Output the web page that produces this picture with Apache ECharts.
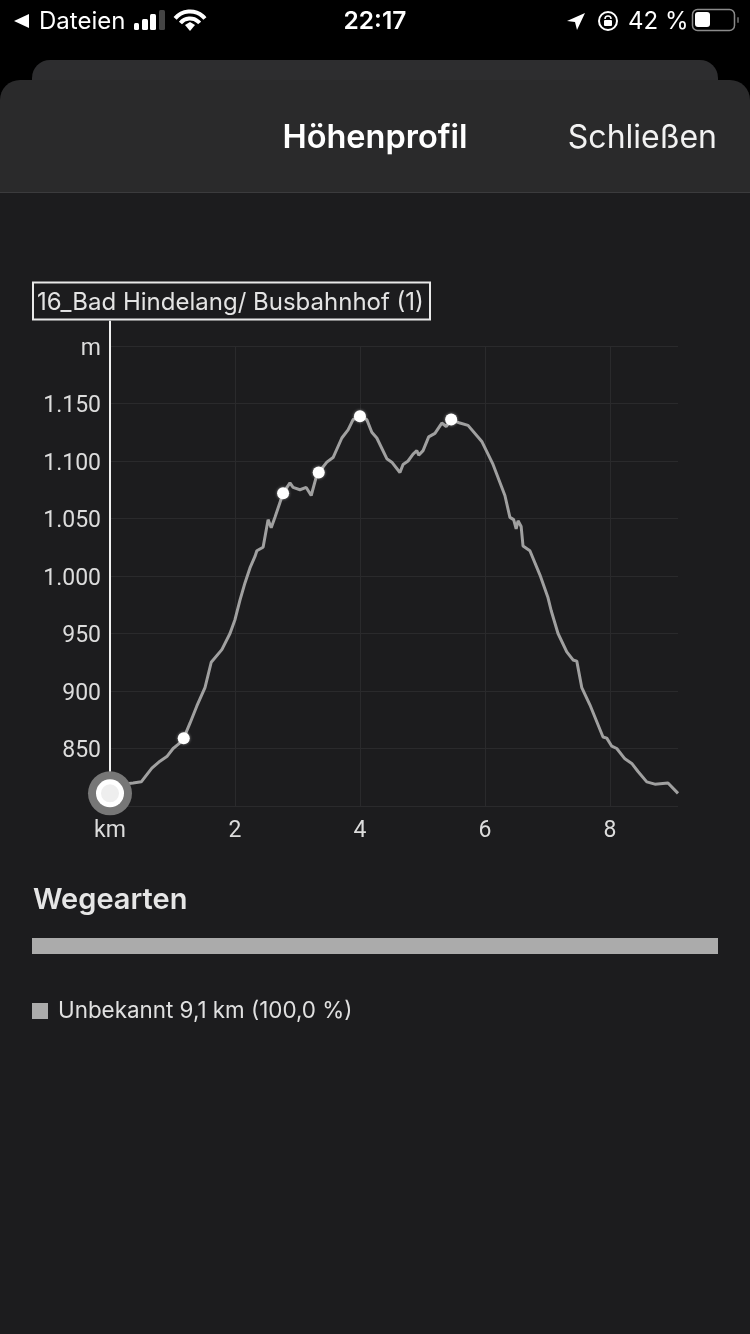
<!DOCTYPE html>
<html><head><meta charset="utf-8">
<style>html,body{margin:0;padding:0;background:#000}#c{width:750px;height:1334px}</style>
<script src="https://cdn.jsdelivr.net/npm/echarts@6/dist/echarts.min.js"></script>
</head><body><div id="c"></div>
<script>
// distance along the route (km)
var distanceKm = [0,0.13,0.21,0.37,0.5,0.67,0.8,0.91,1.01,1.1,1.18,1.28,1.39,1.52,1.62,1.65,1.79,1.92,2.0,2.08,2.16,2.24,2.32,2.35,2.45,2.53,2.58,2.64,2.77,2.88,2.93,3.04,3.14,3.22,3.25,3.3,3.34,3.47,3.57,3.71,3.81,3.89,4.0,4.11,4.19,4.27,4.43,4.51,4.64,4.69,4.77,4.85,4.91,4.94,5.01,5.1,5.2,5.31,5.38,5.46,5.6,5.73,5.95,6.13,6.32,6.4,6.46,6.5,6.53,6.58,6.61,6.72,6.88,7.01,7.06,7.17,7.31,7.41,7.47,7.55,7.68,7.89,7.95,8.03,8.11,8.24,8.35,8.45,8.59,8.72,8.93,9.09];
// elevation (m)
var elevationM = [811,818,819,820,821,833,839,843,850,854,859,872,887,903,925,926,936,950,962,979,994,1007,1017,1022,1025,1049,1042,1051,1072,1081,1077,1075,1077,1070,1071,1086,1090,1099,1103,1120,1127,1136,1139,1136,1125,1120,1102,1099,1090,1097,1100,1106,1109,1105,1109,1121,1124,1133,1130,1136,1133,1131,1117,1097,1070,1051,1049,1041,1048,1043,1026,1022,1001,981,970,950,934,927,926,903,888,860,859,852,850,841,837,830,821,819,820,811];
// highlighted waypoints
var waypointKm = [1.18,2.77,3.34,4.0,5.46];
var waypointM = [859,1072,1090,1139,1136];
// current position
var cursorKm = 0, cursorM = 811, cursorTopM = 1222;
// axis ticks
var kmTicks = [0,2,4,6,8];
var kmMax = 9.09, mMin = 800, mMax = 1200, mStep = 50;
// way types
var wayTypes = ['Unbekannt 9,1 km (100,0 %)'];
var wayShares = [100];

var FONT = 'Inter, Roboto, sans-serif';
var FONT2 = 'Roboto, Inter, sans-serif';
var deNum = function (v) { return v >= 1000 ? String(v).replace(/(\d)(\d{3})$/, '$1.$2') : String(v); };

var T = function (x, y, text, size, weight, color, align, font) {
  return { type:'text', x:x, y:y, silent:true, style:{ text:text, fontFamily:font||FONT, fontSize:size, fontWeight:weight, fill:color, textAlign:align||'left', textVerticalAlign:'middle' } };
};
var R = function (x, y, w, h, fill, r, z) {
  return { type:'rect', shape:{x:x,y:y,width:w,height:h,r:r||0}, style:{fill:fill}, silent:true, z:z||0 };
};

var chrome = [
  // sheets
  R(32,60,686,60,'#2d2d2f',[18,18,0,0]),
  R(0,80,750,112,'#2a2a2b',[20,20,0,0]),
  R(0,192,750,1142,'#1c1c1e'),
  R(0,192,750,1,'#3b3b3d'),
  T(375,138,'Höhenprofil',32.5,600,'#ffffff','center'),
  T(717,138,'Schließen',32,400,'#f2f2f2','right'),
  // status bar
  { type:'polygon', shape:{points:[[14,21],[29,14],[29,28]]}, style:{fill:'#fff'}, silent:true },
  T(39,22,'Dateien',24,400,'#ffffff'),
  R(134,23,5,7,'#fff',1.5), R(142,19,6,11,'#fff',1.5), R(150,14,6,16,'#fff',1.5), R(159,10,6,20,'#444',1.5),
  { type:'arc', shape:{cx:190,cy:31,r:19.5,startAngle:-2.44,endAngle:-0.7}, style:{stroke:'#fff',fill:'none',lineWidth:4}, silent:true },
  { type:'arc', shape:{cx:190,cy:31,r:12.5,startAngle:-2.44,endAngle:-0.7}, style:{stroke:'#fff',fill:'none',lineWidth:4}, silent:true },
  { type:'polygon', shape:{points:[[190,31],[185,25],[190,22],[195,25]]}, style:{fill:'#fff'}, silent:true },
  T(375,22,'22:17',24.5,600,'#ffffff','center'),
  { type:'polygon', shape:{points:[[567,21],[585,13],[577,30],[575,22]]}, style:{fill:'#fff'}, silent:true },
  { type:'circle', shape:{cx:608,cy:21,r:9}, style:{stroke:'#fff',fill:'none',lineWidth:2}, silent:true },
  R(604,20,8,6,'#fff',1),
  { type:'arc', shape:{cx:608,cy:19,r:3,startAngle:Math.PI,endAngle:0}, style:{stroke:'#fff',fill:'none',lineWidth:1.5}, silent:true },
  T(628,22,'42 %',24,400,'#ffffff'),
  { type:'rect', shape:{x:692.5,y:9.5,width:42,height:21,r:5}, style:{stroke:'#8a8a8a',fill:'none',lineWidth:1.5}, silent:true },
  R(695,12,15,15,'#fff',3),
  R(737,17,2,6,'#555',1),
  // way types heading
  T(33,900,'Wegearten',29,600,'#e6e6e6'),
  // position label
  { type:'rect', shape:{x:33,y:282.5,width:397,height:37}, style:{stroke:'#e8e8e8',fill:'#1c1c1e',lineWidth:2}, z:20, silent:true },
  { type:'text', x:37, y:302.5, z:21, silent:true, style:{ text:'16_Bad Hindelang/ Busbahnhof (1)', fontFamily:FONT, fontSize:24, fill:'#e4e4e4', textVerticalAlign:'middle' } }
];

var line = distanceKm.map(function (d, i) { return [d, elevationM[i]]; });
var points = waypointKm.map(function (d, i) { return [d, waypointM[i]]; });
var axisLabel = { color:'#dcdcdc', fontFamily:FONT2, fontSize:23 };
var gridLine = { show:true, lineStyle:{ color:'#2a2a2c', width:1 } };

var chart = echarts.init(document.getElementById('c'), null, { renderer:'canvas', width:750, height:1334 });
chart.setOption({
  animation:false,
  backgroundColor:'#000',
  graphic:{ elements:chrome },
  legend:{ show:true, left:32, top:1000, padding:0, itemWidth:16, itemHeight:16, icon:'rect', data:[wayTypes[0]], selectedMode:false,
    textStyle:{ color:'#e0e0e0', fontFamily:FONT, fontSize:22.4, padding:[0,0,0,5] } },
  grid:[
    { left:110, right:72, top:346, bottom:528 },
    { left:32, right:32, top:938, height:16 }
  ],
  xAxis:[
    { type:'value', gridIndex:0, min:0, max:kmMax, interval:2,
      axisLine:{show:false}, axisTick:{show:false},
      splitLine:Object.assign({ showMaxLine:false, showMinLine:false }, gridLine),
      axisLabel:Object.assign({ margin:14, showMaxLabel:false, formatter:function (v) { return v === 0 ? 'km' : (kmTicks.indexOf(v) >= 0 ? String(v) : ''); } }, axisLabel) },
    { type:'value', gridIndex:1, min:0, max:100, show:false }
  ],
  yAxis:[
    { type:'value', gridIndex:0, min:mMin, max:mMax, interval:mStep,
      axisLine:{show:false}, axisTick:{show:false}, splitLine:gridLine,
      axisLabel:{ margin:9, formatter:function (v) { var s = v === mMax ? 'm' : (v === mMin ? '' : deNum(v)); return s ? '{a|' + s + '}' : ''; },
        rich:{ a:{ color:axisLabel.color, fontFamily:FONT2, fontSize:axisLabel.fontSize, padding:[6,0,0,0] } } } },
    { type:'category', gridIndex:1, data:['Wegearten'], show:false }
  ],
  series:[
    { type:'line', name:'cursor', data:[[cursorKm,cursorM],[cursorKm,cursorTopM]], clip:false, symbol:'none', silent:true, z:3,
      lineStyle:{ color:'#f0f0f0', width:2 } },
    { type:'line', name:'Höhe', data:line, symbol:'none', smooth:false, z:2, silent:true,
      lineStyle:{ color:'#a0a0a0', width:3 } },
    { type:'scatter', name:'Wegpunkte', data:points, symbolSize:12, z:4, silent:true,
      itemStyle:{ color:'#ffffff', opacity:1, shadowColor:'rgba(255,255,255,0.5)', shadowBlur:3 } },
    { type:'scatter', data:[[cursorKm,cursorM]], symbolSize:44, clip:false, z:5, silent:true, itemStyle:{ color:'#777777', opacity:1 } },
    { type:'scatter', data:[[cursorKm,cursorM]], symbolSize:28, clip:false, z:6, silent:true, itemStyle:{ color:'#ffffff', opacity:1 } },
    { type:'scatter', data:[[cursorKm,cursorM]], symbolSize:18, clip:false, z:7, silent:true, itemStyle:{ color:'#eeeeee', opacity:1 } },
    { type:'bar', name:wayTypes[0], xAxisIndex:1, yAxisIndex:1, data:wayShares, barWidth:'100%', silent:true,
      itemStyle:{ color:'#ababab' } }
  ]
});
</script></body></html>
